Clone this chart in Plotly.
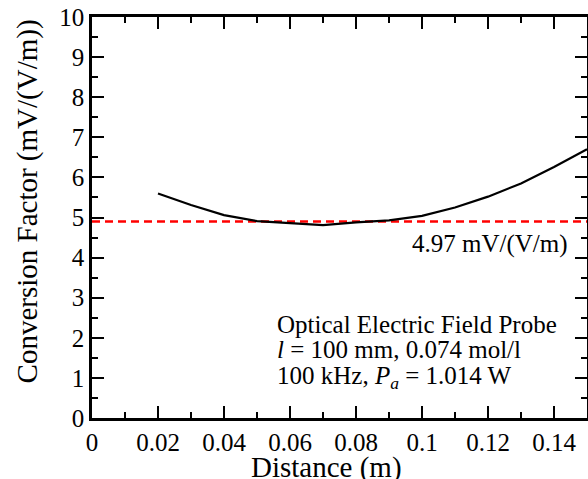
import plotly.graph_objects as go

distance = [0.02, 0.03, 0.04, 0.05, 0.06, 0.07, 0.08, 0.09, 0.10, 0.11, 0.12, 0.13, 0.14, 0.15]
conv_factor = [5.60, 5.31, 5.06, 4.91, 4.86, 4.81, 4.88, 4.93, 5.04, 5.25, 5.52, 5.85, 6.26, 6.70]
ref_x = [0.0, 0.15]
ref_level = 4.90
ref_label = "4.97 mV/(V/m)"
info_lines = [
    "Optical Electric Field Probe",
    "<i>l</i> = 100 mm, 0.074 mol/l",
    "100 kHz, <i>P<sub>a</sub></i> = 1.014 W",
]
info_y = [2.34, 1.70, 1.02]
x_ticks = [0, 0.02, 0.04, 0.06, 0.08, 0.1, 0.12, 0.14]
x_ticklabels = ["0", "0.02", "0.04", "0.06", "0.08", "0.1", "0.12", "0.14"]
y_ticks = list(range(0, 11))

FONT = "Liberation Serif, Times New Roman, serif"

fig = go.Figure()
fig.add_trace(go.Scatter(x=ref_x, y=[ref_level, ref_level], mode="lines",
                         line=dict(color="#ff0000", width=2.5, dash="8px,5px"),
                         showlegend=False, hoverinfo="skip", cliponaxis=False))
fig.add_trace(go.Scatter(x=distance, y=conv_factor, mode="lines",
                         line=dict(color="black", width=2.2),
                         showlegend=False))

axis_common = dict(
    showline=True, linecolor="black", linewidth=2.5, mirror="ticks",
    ticks="inside", ticklen=12, tickwidth=2, tickcolor="black",
    showgrid=False, zeroline=False, automargin=False,
    tickfont=dict(family=FONT, size=25, color="black"),
)

fig.update_xaxes(range=[0, 0.15], tickvals=x_ticks, ticktext=x_ticklabels,
                 minor=dict(dtick=0.01, tick0=0, ticks="inside", ticklen=6, tickwidth=2, tickcolor="black"),
                 **axis_common)
fig.update_yaxes(range=[0, 10], tickvals=y_ticks,
                 minor=dict(dtick=0.5, tick0=0, ticks="inside", ticklen=6, tickwidth=2, tickcolor="black"),
                 **axis_common)

annotations = [
    dict(x=0.1447, y=4.33, xref="x", yref="y", text=ref_label, showarrow=False,
         xanchor="right", yanchor="middle", font=dict(family=FONT, size=25, color="black")),
    dict(x=0.473, y=0, xref="paper", yref="paper", yshift=-49, text="Distance (m)",
         showarrow=False, xanchor="center", yanchor="middle",
         font=dict(family=FONT, size=29, color="black")),
    dict(x=0, y=0.54, xref="paper", yref="paper", xshift=-65, text="Conversion Factor (mV/(V/m))",
         textangle=-90, showarrow=False, xanchor="center", yanchor="middle",
         font=dict(family=FONT, size=29, color="black")),
]
for line, yy in zip(info_lines, info_y):
    annotations.append(dict(x=0.0555, y=yy, xref="x", yref="y", text=line, showarrow=False,
                            xanchor="left", yanchor="middle",
                            font=dict(family=FONT, size=25, color="black")))

fig.update_layout(
    width=588, height=479,
    margin=dict(l=92, r=1, t=17, b=61, autoexpand=False),
    paper_bgcolor="white", plot_bgcolor="white",
    annotations=annotations,
    font=dict(family=FONT, color="black"),
)

fig.write_html("out.html", config={"displayModeBar": False},
               post_script="document.body.style.margin='0px';document.body.style.overflow='hidden';")
